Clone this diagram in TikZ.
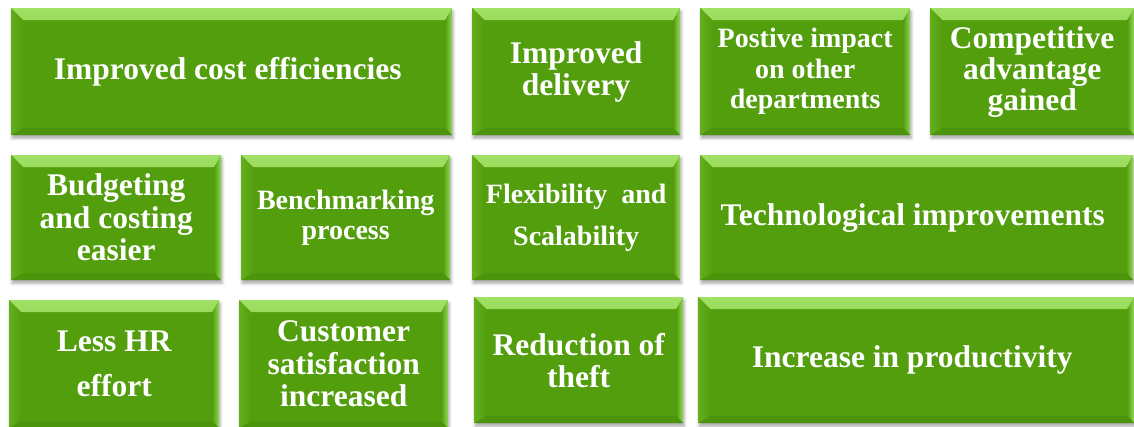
\documentclass[tikz,border=0pt]{standalone}
\usepackage{fontspec}
\setmainfont{Liberation Serif}
\usetikzlibrary{shadows.blur}

\definecolor{leafgreen}{RGB}{82,158,13}
\definecolor{lightleaf}{RGB}{160,224,100}
\definecolor{midleaf}{RGB}{104,180,34}
\definecolor{sideleaf}{RGB}{100,174,28}
\definecolor{edgeleaf}{RGB}{150,216,90}
\definecolor{darkleaf}{RGB}{76,148,11}

\tikzset{
  boxsize/.style 2 args={minimum width=#1, minimum height=#2},
  benefit/.style={rectangle, draw=none, fill=leafgreen, anchor=north west, inner sep=0pt,
    text=white, align=center, font=\bfseries\fontsize{31.5}{32}\selectfont,
    blur shadow={shadow xshift=1pt, shadow yshift=-3pt, shadow blur radius=3pt, shadow opacity=35},
    path picture={
      % bevel: top, left, right, bottom
      \shade[top color=lightleaf, bottom color=midleaf]
        (path picture bounding box.north west) -- (path picture bounding box.north east)
        -- ([xshift=-7pt,yshift=-12pt]path picture bounding box.north east)
        -- ([xshift=12pt,yshift=-12pt]path picture bounding box.north west) -- cycle;
      \shade[left color=sideleaf, right color=leafgreen]
        (path picture bounding box.north west) -- ([xshift=12pt,yshift=-12pt]path picture bounding box.north west)
        -- ([xshift=12pt,yshift=7pt]path picture bounding box.south west)
        -- (path picture bounding box.south west) -- cycle;
      \shade[left color=leafgreen, right color=edgeleaf]
        (path picture bounding box.north east) -- ([xshift=-7pt,yshift=-12pt]path picture bounding box.north east)
        -- ([xshift=-7pt,yshift=7pt]path picture bounding box.south east)
        -- (path picture bounding box.south east) -- cycle;
      \fill[darkleaf]
        (path picture bounding box.south west) -- ([xshift=12pt,yshift=7pt]path picture bounding box.south west)
        -- ([xshift=-7pt,yshift=7pt]path picture bounding box.south east)
        -- (path picture bounding box.south east) -- cycle;
    }},
  smaller/.style={font=\bfseries\fontsize{28}{30.5}\selectfont},
}

\begin{document}
\begin{tikzpicture}[x=1pt,y=-1pt]
\useasboundingbox (0,0) rectangle (1134,426);
% first row
\node[benefit, boxsize={441pt}{127pt}]          (cost)      at (11,8)    { Improved cost efficiencies };
\node[benefit, boxsize={208pt}{127pt}]          (delivery)  at (472,8)   { Improved\\ delivery };
\node[benefit, boxsize={210pt}{127pt}, smaller] (impact)    at (700,8)   { Postive impact\\ on other\\ departments };
\node[benefit, boxsize={204pt}{127pt}, font=\bfseries\fontsize{31.5}{31}\selectfont]
                                                (advantage) at (930,8)   { Competitive\\ advantage\\ gained };
% second row
\node[benefit, boxsize={210pt}{125pt}, font=\bfseries\fontsize{31.5}{32.5}\selectfont]
                                                (budget)    at (11,155)  { Budgeting\\ and costing\\ easier };
\node[benefit, boxsize={209pt}{125pt}, font=\bfseries\fontsize{28}{30}\selectfont]
                                                (bench)     at (241,155) { Benchmarking\\ process };
\node[benefit, boxsize={208pt}{125pt}, font=\bfseries\fontsize{28}{42}\selectfont]
                                                (flex)      at (472,155) { Flexibility~ and\\ Scalability };
\node[benefit, boxsize={433pt}{125pt}]          (tech)      at (700,155) { Technological improvements };
% third row
\node[benefit, boxsize={210pt}{128pt}, font=\bfseries\fontsize{31.5}{45}\selectfont]
                                                (hr)        at (9,300)   { Less HR\\ effort };
\node[benefit, boxsize={209pt}{128pt}, font=\bfseries\fontsize{31.5}{32.5}\selectfont]
                                                (customer)  at (239,300) { Customer\\ satisfaction\\ increased };
\node[benefit, boxsize={209pt}{126pt}]          (theft)     at (474,297) { Reduction of\\ theft };
\node[benefit, boxsize={436pt}{126pt}]          (prod)      at (698,297) { Increase in productivity };
\end{tikzpicture}
\end{document}
